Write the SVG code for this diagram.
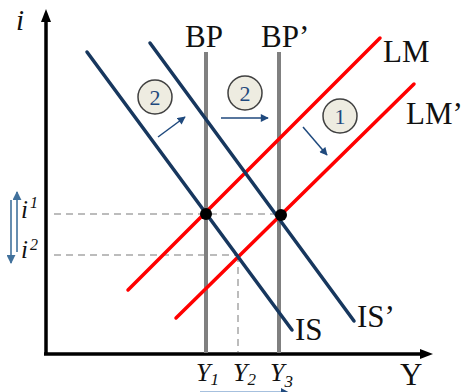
<svg xmlns="http://www.w3.org/2000/svg" width="465" height="392" viewBox="0 0 465 392">
<defs>
<style>
.lbl{font-family:"Liberation Serif","Times New Roman",serif;font-size:31px;fill:#111}
.it{font-family:"Liberation Serif","Times New Roman",serif;font-style:italic;fill:#111}
.bp{stroke:#808080;stroke-width:4;fill:none}
.lm{stroke:#FF0000;stroke-width:3.5;fill:none;stroke-linecap:round}
.is{stroke:#17375E;stroke-width:3.5;fill:none;stroke-linecap:round}
.dash{stroke:#A6A6A6;stroke-width:1.5;stroke-dasharray:7 5;fill:none}
.axis{stroke:#000;stroke-width:3.5;fill:none}
.sm{stroke:#1F497D;stroke-width:1.5;fill:none}
.side{stroke:#41719C;stroke-width:1.6;fill:none}
.circ{fill:#EEECE1;stroke:#404040;stroke-width:1.5}
.num{font-family:"Liberation Serif","Times New Roman",serif;font-size:22px;fill:#1F497D;text-anchor:middle}
</style>
<marker id="ah" viewBox="0 0 10 10" refX="9" refY="5" markerWidth="9" markerHeight="8" markerUnits="userSpaceOnUse" orient="auto">
<path d="M0,0 L10,5 L0,10 z" fill="#1F497D"/>
</marker>
<marker id="ahs" viewBox="0 0 10 10" refX="9" refY="5" markerWidth="9" markerHeight="9" markerUnits="userSpaceOnUse" orient="auto">
<path d="M0,0 L10,5 L0,10 z" fill="#41719C"/>
</marker>
</defs>

<g id="axes">
<line class="axis" x1="46" y1="18" x2="46" y2="355"/>
<path d="M46,9 L51,22 L41,22 z" fill="#000"/>
<line class="axis" x1="44" y1="354" x2="424" y2="354"/>
<path d="M433,354 L420,349 L420,359 z" fill="#000"/>
<text class="it" x="16" y="30" font-size="29">i</text>
<text class="lbl" x="400" y="385" font-size="30">Y</text>
</g>

<g id="guides">
<line class="dash" x1="54" y1="214" x2="280" y2="214"/>
<line class="dash" x1="54" y1="255" x2="238" y2="255"/>
<line class="dash" x1="238" y1="255" x2="238" y2="352"/>
</g>

<g id="BP">
<line class="bp" x1="206" y1="52" x2="206" y2="353"/>
<text class="lbl" x="185" y="47">BP</text>
</g>
<g id="BP2">
<line class="bp" x1="279" y1="52" x2="279" y2="353"/>
<text class="lbl" x="261" y="47">BP’</text>
</g>

<g id="LM">
<line class="lm" x1="380" y1="38" x2="128" y2="290"/>
<text class="lbl" x="383" y="62">LM</text>
</g>
<g id="LM2">
<line class="lm" x1="414" y1="84" x2="176" y2="318"/>
<text class="lbl" x="406" y="124">LM’</text>
</g>

<g id="IS">
<line class="is" x1="87" y1="52" x2="292" y2="330"/>
<text class="lbl" x="295" y="340">IS</text>
</g>
<g id="IS2">
<line class="is" x1="150" y1="43" x2="354" y2="321"/>
<text class="lbl" x="357" y="327">IS’</text>
</g>

<g id="equilibria">
<circle cx="206" cy="214" r="6" fill="#000"/>
<circle cx="281" cy="215" r="6" fill="#000"/>
</g>

<g id="step2a">
<circle class="circ" cx="155" cy="97" r="17"/>
<text class="num" x="155" y="105">2</text>
</g>
<g id="step2b">
<circle class="circ" cx="245" cy="93" r="17"/>
<text class="num" x="245" y="101">2</text>
</g>
<g id="step1">
<circle class="circ" cx="340" cy="116" r="17"/>
<text class="num" x="340" y="124">1</text>
</g>

<g id="connectors">
<line class="sm" x1="158" y1="137" x2="185" y2="117" marker-end="url(#ah)"/>
<line class="sm" x1="221" y1="118" x2="268" y2="118" marker-end="url(#ah)"/>
<line class="sm" x1="303" y1="127" x2="327" y2="155" marker-end="url(#ah)"/>
<line class="side" x1="17" y1="252" x2="17" y2="192" marker-end="url(#ahs)"/>
<line class="side" x1="11" y1="200" x2="11" y2="263" marker-end="url(#ahs)"/>
<line x1="200" y1="392.5" x2="284" y2="392.5" stroke="#4F81BD" stroke-width="2"/>
<path d="M292,394 L281,388 L281,400 z" fill="#1F497D"/>
</g>

<g id="rates">
<text class="it" x="21" y="218" font-size="25">i<tspan font-size="16" dx="2" dy="-10">1</tspan></text>
<text class="it" x="21" y="258" font-size="25">i<tspan font-size="16" dx="2" dy="-8">2</tspan></text>
</g>

<g id="outputs">
<text class="it" x="196" y="381" font-size="26">Y<tspan font-size="17" dy="4">1</tspan></text>
<text class="it" x="233" y="381" font-size="26">Y<tspan font-size="17" dy="4">2</tspan></text>
<text class="it" x="270" y="381" font-size="26" fill="#1F2F4F">Y<tspan font-size="17" dy="6">3</tspan></text>
</g>
</svg>
